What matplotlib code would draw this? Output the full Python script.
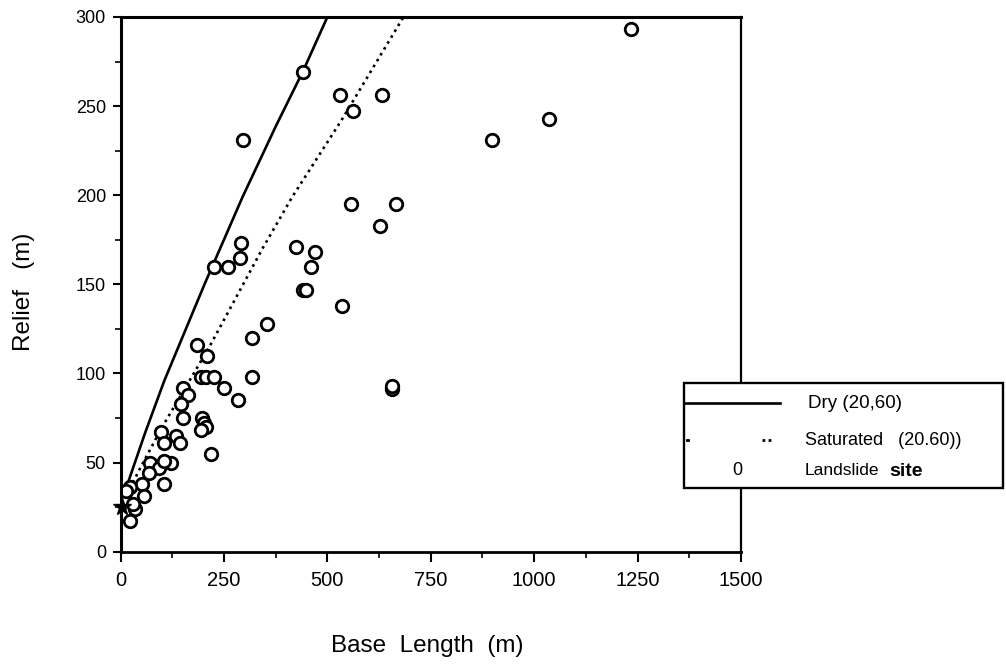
import matplotlib
matplotlib.use("Agg")
import matplotlib.pyplot as plt
from matplotlib.lines import Line2D
from matplotlib.patches import Rectangle
from matplotlib.ticker import MultipleLocator

plt.rcParams['font.family'] = ['Liberation Sans', 'DejaVu Sans']

# ---- data ----
dry_x = [0, 20, 60, 106, 203, 295, 376, 442, 500]
dry_y = [28, 40, 67, 96, 150, 199, 239, 270, 300]

sat_x = [0, 50, 101, 215, 343, 415, 534, 684]
sat_y = [25, 48, 70, 115, 170, 199, 242, 300]

site_x = [1234, 1036, 898, 295, 442, 531, 563, 633, 556, 667, 628,
          292, 290, 425, 471, 461, 440, 449, 259, 227, 536, 355, 319, 319,
          657, 657, 184, 210, 195, 207, 227, 249, 283, 150, 164, 145, 152,
          198, 202, 207, 195, 99, 135, 106, 143, 218, 72, 123, 94, 68, 106,
          106, 51, 22, 56, 36, 24, 10, 14, 30]
site_y = [293, 243, 231, 231, 269, 256, 247, 256, 195, 195, 183,
          173, 165, 171, 168, 160, 147, 147, 160, 160, 138, 128, 120, 98,
          91, 93, 116, 110, 98, 98, 98, 92, 85, 92, 88, 83, 75,
          75, 72, 70, 68, 67, 65, 61, 61, 55, 50, 50, 47, 44, 38,
          51, 38, 36, 31, 24, 17, 29, 34, 27]

star_x = [4]
star_y = [25]

x_ticks = [0, 250, 500, 750, 1000, 1250, 1500]
y_ticks = [0, 50, 100, 150, 200, 250, 300]

# ---- figure ----
fig = plt.figure(figsize=(10.06, 6.64), dpi=100)
ax = fig.add_axes([0.1198, 0.1692, 0.6168, 0.8052])

ax.plot(dry_x, dry_y, color='black', lw=1.9, solid_capstyle='butt')
ax.plot(sat_x, sat_y, color='black', lw=1.9, linestyle=(0, (1, 1.6)))
ax.plot(site_x, site_y, linestyle='none', marker='o', markersize=9,
        markerfacecolor='white', markeredgecolor='black', markeredgewidth=2.0)
ax.plot(star_x, star_y, linestyle='none', marker='*', markersize=13,
        color='black', clip_on=False)

ax.set_xlim(0, 1500)
ax.set_ylim(0, 300)
ax.set_xticks(x_ticks)
ax.set_xticklabels([str(v) for v in x_ticks])
ax.set_yticks(y_ticks)
ax.set_yticklabels([str(v) for v in y_ticks])
ax.xaxis.set_minor_locator(MultipleLocator(125))
ax.yaxis.set_minor_locator(MultipleLocator(25))
ax.tick_params(axis='both', which='major', direction='out', width=1.5, colors='black')
ax.tick_params(axis='x', which='major', length=7, pad=7, labelsize=14.5)
ax.tick_params(axis='y', which='major', length=5.5, pad=5, labelsize=13)
ax.tick_params(axis='both', which='minor', direction='out', length=4, width=1.2)
for side, lw in [('left', 2.2), ('bottom', 2.0), ('top', 2.2), ('right', 1.6)]:
    ax.spines[side].set_linewidth(lw)
    ax.spines[side].set_color('black')

fig.text(0.024, 0.560, 'Relief   (m)', rotation=90, ha='center', va='center', fontsize=17.5)
fig.text(0.425, 0.027, 'Base  Length  (m)', ha='center', va='center', fontsize=17.5)

# ---- legend (drawn by hand) ----
lx0, lx1 = 0.680, 0.997
ly0, ly1 = 0.2651, 0.4232
fig.patches.append(Rectangle((lx0, ly0), lx1 - lx0, ly1 - ly0, transform=fig.transFigure,
                             facecolor='white', edgecolor='black', lw=1.7, zorder=5))
fig.add_artist(Line2D([0.681, 0.775], [0.393, 0.393], transform=fig.transFigure,
                      color='black', lw=1.9, zorder=6))
fig.add_artist(Line2D([0.683, 0.684], [0.337, 0.337], transform=fig.transFigure,
                      color='black', lw=2.0, zorder=6))
fig.add_artist(Line2D([0.757, 0.768], [0.337, 0.337], transform=fig.transFigure,
                      color='black', lw=2.0, linestyle=(0, (1, 1.2)), zorder=6))
fig.text(0.803, 0.393, 'Dry (20,60)', ha='left', va='center', fontsize=13.5, zorder=7)
fig.text(0.800, 0.337, 'Saturated   (20.60))', ha='left', va='center', fontsize=13, zorder=7)
fig.text(0.733, 0.292, '0', ha='center', va='center', fontsize=13, zorder=7)
fig.text(0.800, 0.292, 'Landslide', ha='left', va='center', fontsize=12.5, zorder=7)
fig.text(0.884, 0.290, 'site', ha='left', va='center', fontsize=14, fontweight='bold', zorder=7)

fig.savefig('out.png', dpi=100, facecolor='white')
